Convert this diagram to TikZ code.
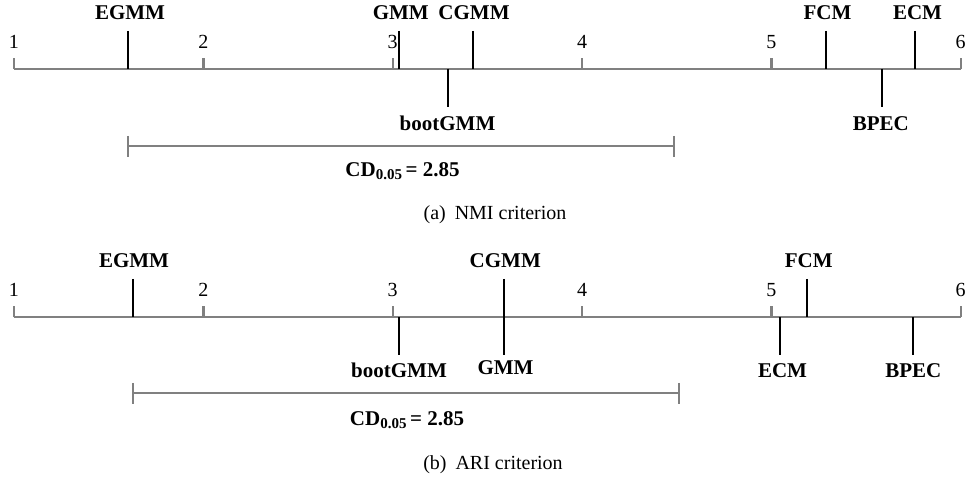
\documentclass[tikz,border=0pt]{standalone}
\usepackage{fontspec}
\setmainfont{Liberation Serif}
\definecolor{axgray}{RGB}{128,128,128}
\tikzset{
  lab/.style={font=\bfseries\fontsize{21}{25}\selectfont, inner sep=0pt, anchor=base},
  num/.style={font=\fontsize{20}{24}\selectfont, inner sep=0pt, anchor=base},
  captext/.style={font=\fontsize{20}{24}\selectfont, inner sep=0pt, anchor=base},
  axisline/.style={draw=axgray, line width=2.3pt},
  rankline/.style={draw=black, line width=1.8pt},
}
\newcommand{\cdlabel}{CD\raisebox{-3pt}{\fontsize{15}{15}\selectfont 0.05}\hspace{3.5pt}= 2.85}
\begin{document}
\begin{tikzpicture}[x=1pt,y=-1pt]
\useasboundingbox (0,0) rectangle (967,478);

% ================= panel (a) =================
\coordinate (aL) at (14,69);
\coordinate (aR) at (960.7,69);
\draw[axisline] (aL) -- (aR);
\foreach \r/\x in {1/14,2/203.35,3/392.7,4/582.05,5/771.4,6/960.7}{
  \coordinate (at\r) at (\x,69);
  \coordinate (att\r) at (\x,58);
  \draw[axisline] (at\r) -- (att\r);
  \node[num] (an\r) at (\x,49) {\r};
}
% top methods
\foreach \nm/\x/\lx in {EGMM/128/130, GMM/399.3/400.8, CGMM/473.3/474, FCM/825.7/827.5, ECM/915.3/917.5}{
  \node[lab] (al\nm) at (\lx,20) {\nm};
  \coordinate (ap\nm) at (\x,31);
  \coordinate (aq\nm) at (\x,69);
  \draw[rankline] (ap\nm) -- (aq\nm);
}
% bottom methods
\foreach \nm/\x/\lx in {bootGMM/448.3/447.5, BPEC/882.3/880.8}{
  \node[lab] (al\nm) at (\lx,130.5) {\nm};
  \coordinate (ap\nm) at (\x,107);
  \coordinate (aq\nm) at (\x,69);
  \draw[rankline] (aq\nm) -- (ap\nm);
}
% CD bar
\coordinate (acdL) at (127.7,146.3);
\coordinate (acdR) at (674.3,146.3);
\coordinate (acdLt) at (127.7,136); \coordinate (acdLb) at (127.7,156.7);
\coordinate (acdRt) at (674.3,136); \coordinate (acdRb) at (674.3,156.7);
\draw[axisline] (acdL) -- (acdR);
\draw[axisline] (acdLt) -- (acdLb);
\draw[axisline] (acdRt) -- (acdRb);
\node[lab] (acd) at (402.5,177) {\cdlabel};
\node[captext] (acap) at (495,220) {(a)\hspace{0.45em}NMI criterion};

% ================= panel (b) =================
\coordinate (bL) at (14,317.3);
\coordinate (bR) at (960.7,317.3);
\draw[axisline] (bL) -- (bR);
\foreach \r/\x in {1/14,2/203.35,3/392.7,4/582.05,5/771.4,6/960.7}{
  \coordinate (bt\r) at (\x,317.3);
  \coordinate (btt\r) at (\x,306);
  \draw[axisline] (bt\r) -- (btt\r);
  \node[num] (bn\r) at (\x,296.7) {\r};
}
% top methods
\foreach \nm/\x/\lx in {EGMM/132.7/134, CGMM/503.7/505.3, FCM/806.7/808.8}{
  \node[lab] (bl\nm) at (\lx,267.3) {\nm};
  \coordinate (bp\nm) at (\x,279);
  \coordinate (bq\nm) at (\x,317.3);
  \draw[rankline] (bp\nm) -- (bq\nm);
}
% bottom methods
\foreach \nm/\x/\lx/\by in {bootGMM/399.3/399/377.3, GMM/503.7/505.5/375, ECM/780/782.5/377.3, BPEC/913.3/913.3/377.3}{
  \node[lab] (bl\nm) at (\lx,\by) {\nm};
  \coordinate (bp\nm) at (\x,355);
  \coordinate (bq\nm) at (\x,317.3);
  \draw[rankline] (bq\nm) -- (bp\nm);
}
% CD bar
\coordinate (bcdL) at (132.7,393.3);
\coordinate (bcdR) at (678.7,393.3);
\coordinate (bcdLt) at (132.7,383); \coordinate (bcdLb) at (132.7,403.5);
\coordinate (bcdRt) at (678.7,383); \coordinate (bcdRb) at (678.7,403.5);
\draw[axisline] (bcdL) -- (bcdR);
\draw[axisline] (bcdLt) -- (bcdLb);
\draw[axisline] (bcdRt) -- (bcdRb);
\node[lab] (bcd) at (407,425) {\cdlabel};
\node[captext] (bcap) at (493,469) {(b)\hspace{0.45em}ARI criterion};
\end{tikzpicture}
\end{document}
